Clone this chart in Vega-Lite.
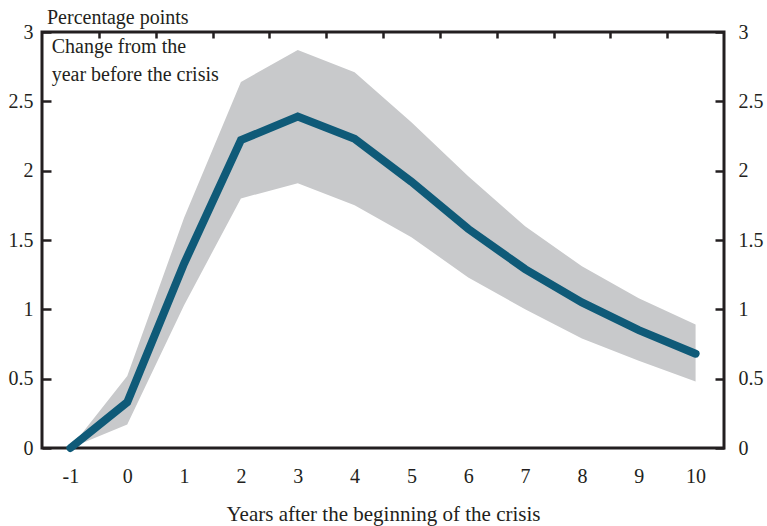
{
  "$schema": "https://vega.github.io/schema/vega-lite/v6.json",
  "autosize": {"type": "none"},
  "padding": {"left": 42, "top": 32, "right": 43, "bottom": 78},
  "width": 682,
  "height": 416,
  "background": "white",
  "title": {"text": "Percentage points", "anchor": "start", "frame": "group", "offset": -6, "dx": 5, "font": "Liberation Serif", "fontSize": 20, "fontWeight": "normal", "color": "#231f20"},
  "data": {"values": [
    {"year": -1, "est": 0.0, "lo": 0.0, "hi": 0.0},
    {"year": 0, "est": 0.33, "lo": 0.17, "hi": 0.52},
    {"year": 1, "est": 1.33, "lo": 1.03, "hi": 1.66},
    {"year": 2, "est": 2.22, "lo": 1.80, "hi": 2.64},
    {"year": 3, "est": 2.39, "lo": 1.91, "hi": 2.87},
    {"year": 4, "est": 2.23, "lo": 1.75, "hi": 2.71},
    {"year": 5, "est": 1.92, "lo": 1.52, "hi": 2.35},
    {"year": 6, "est": 1.58, "lo": 1.23, "hi": 1.96},
    {"year": 7, "est": 1.29, "lo": 1.00, "hi": 1.60},
    {"year": 8, "est": 1.05, "lo": 0.79, "hi": 1.31},
    {"year": 9, "est": 0.85, "lo": 0.63, "hi": 1.08},
    {"year": 10, "est": 0.68, "lo": 0.48, "hi": 0.89}
  ]},
  "layer": [
    {
      "mark": {"type": "area", "color": "#c8c9cb"},
      "encoding": {
        "x": {"field": "year", "type": "quantitative", "scale": {"domain": [-1.5, 10.5], "nice": false, "zero": false},
          "axis": {"values": [-1,0,1,2,3,4,5,6,7,8,9,10], "labelExpr": "toString(datum.value)", "ticks": false, "domain": false, "grid": false, "labelPadding": 18, "labelFont": "Liberation Serif", "labelFontSize": 20, "labelColor": "#231f20", "title": "Years after the beginning of the crisis", "titleFont": "Liberation Serif", "titleFontSize": 21, "titleFontWeight": "normal", "titleColor": "#231f20", "titlePadding": 17}},
        "y": {"field": "lo", "type": "quantitative", "scale": {"domain": [0, 3], "nice": false},
          "axis": {"values": [0, 0.5, 1, 1.5, 2, 2.5, 3], "format": "~g", "orient": "left", "domain": false, "grid": false, "tickSize": -9, "tickWidth": 2.5, "tickColor": "#231f20", "labelPadding": 18, "labelFont": "Liberation Serif", "labelFontSize": 20, "labelColor": "#231f20", "title": null}},
        "y2": {"field": "hi"}
      }
    },
    {
      "mark": {"type": "line", "color": "#0f5a78", "strokeWidth": 8, "strokeCap": "round", "strokeJoin": "miter"},
      "encoding": {
        "x": {"field": "year", "type": "quantitative",
          "axis": {"values": [-0.5,0.5,1.5,2.5,3.5,4.5,5.5,6.5,7.5,8.5,9.5], "labels": false, "domain": false, "grid": false, "tickSize": -6, "tickWidth": 2.5, "tickColor": "#231f20", "title": null}},
        "y": {"field": "est", "type": "quantitative",
          "axis": {"values": [0, 0.5, 1, 1.5, 2, 2.5, 3], "format": "~g", "orient": "right", "domain": false, "grid": false, "tickSize": -9, "tickWidth": 2.5, "tickColor": "#231f20", "labelPadding": 23, "labelFont": "Liberation Serif", "labelFontSize": 20, "labelColor": "#231f20", "title": null}}
      }
    },
    {
      "data": {"values": [{"note": ["Change from the", "year before the crisis"], "nx": -1.33, "ny": 2.89}]},
      "mark": {"type": "text", "align": "left", "baseline": "middle", "font": "Liberation Serif", "fontSize": 20, "color": "#231f20", "lineHeight": 28},
      "encoding": {
        "x": {"field": "nx", "type": "quantitative", "axis": null},
        "y": {"field": "ny", "type": "quantitative", "axis": null},
        "text": {"field": "note"}
      }
    }
  ],
  "resolve": {"axis": {"x": "independent", "y": "independent"}},
  "config": {"view": {"stroke": "#231f20", "strokeWidth": 3}}
}
